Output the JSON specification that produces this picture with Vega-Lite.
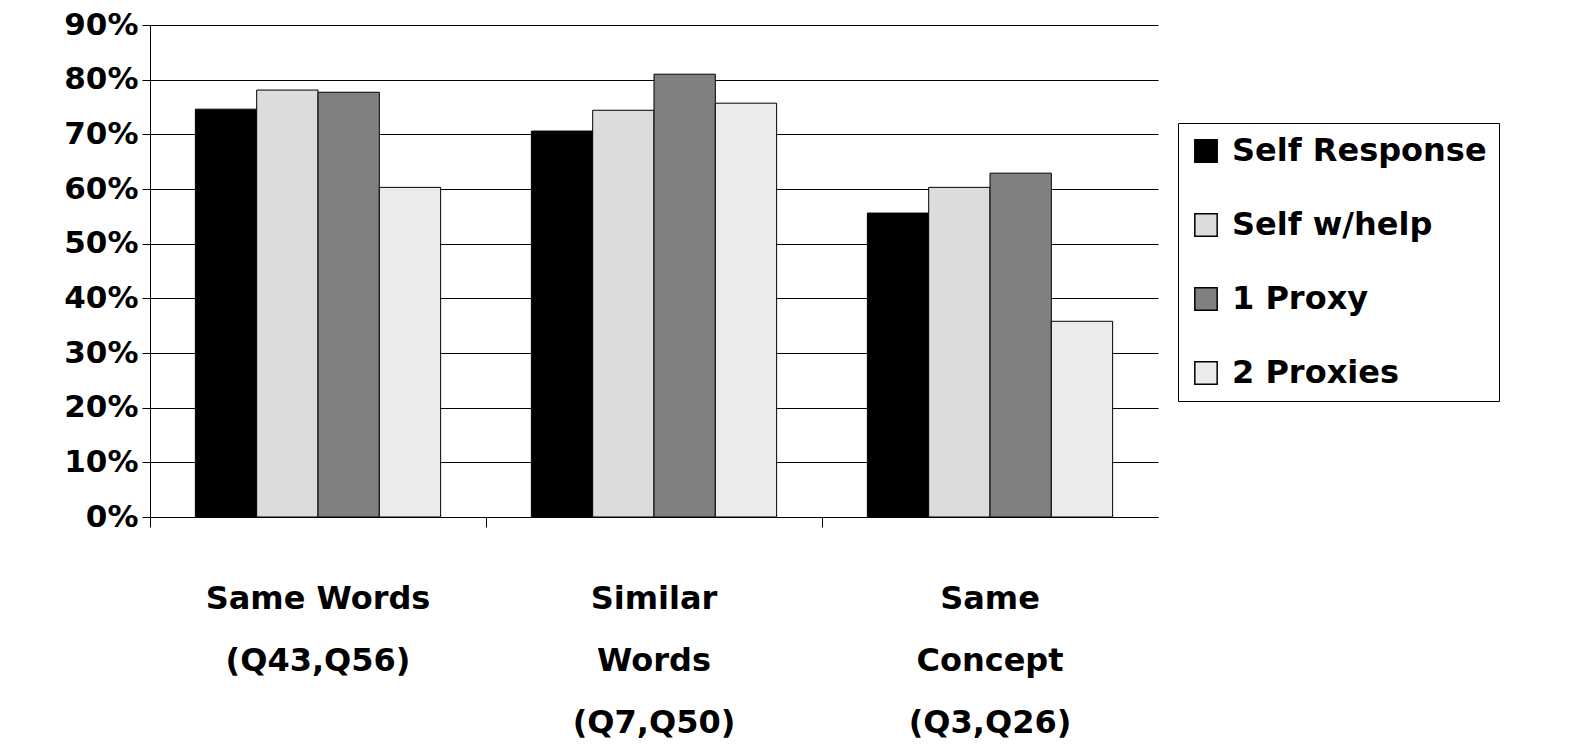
{
  "$schema": "https://vega.github.io/schema/vega-lite/v6.json",
  "width": 1008,
  "height": 492,
  "autosize": {"type": "none"},
  "padding": {"left": 150, "top": 25, "right": 427, "bottom": 235},
  "background": "white",
  "config": {"view": {"stroke": null}, "font": "DejaVu Sans"},
  "data": {
    "values": [
      {"cat": "Same Words|(Q43,Q56)", "grp": "Self Response", "v": 0.746},
      {"cat": "Same Words|(Q43,Q56)", "grp": "Self w/help", "v": 0.781},
      {"cat": "Same Words|(Q43,Q56)", "grp": "1 Proxy", "v": 0.777},
      {"cat": "Same Words|(Q43,Q56)", "grp": "2 Proxies", "v": 0.603},
      {"cat": "Similar|Words|(Q7,Q50)", "grp": "Self Response", "v": 0.706},
      {"cat": "Similar|Words|(Q7,Q50)", "grp": "Self w/help", "v": 0.744},
      {"cat": "Similar|Words|(Q7,Q50)", "grp": "1 Proxy", "v": 0.81},
      {"cat": "Similar|Words|(Q7,Q50)", "grp": "2 Proxies", "v": 0.757},
      {"cat": "Same|Concept|(Q3,Q26)", "grp": "Self Response", "v": 0.556},
      {"cat": "Same|Concept|(Q3,Q26)", "grp": "Self w/help", "v": 0.603},
      {"cat": "Same|Concept|(Q3,Q26)", "grp": "1 Proxy", "v": 0.629},
      {"cat": "Same|Concept|(Q3,Q26)", "grp": "2 Proxies", "v": 0.358}
    ]
  },
  "encoding": {
    "x": {"field": "cat", "type": "nominal", "sort": null,
      "scale": {"paddingInner": 0, "paddingOuter": 0}},
    "xOffset": {"field": "grp", "type": "nominal", "sort": ["Self Response", "Self w/help", "1 Proxy", "2 Proxies"],
      "scale": {"paddingInner": 0, "paddingOuter": 0.74}},
    "y": {"field": "v", "type": "quantitative",
      "scale": {"domain": [0, 0.9]},
      "axis": {"format": "%", "tickCount": 9, "title": null, "labelFontSize": 31, "labelFontWeight": "bold",
        "labelColor": "black", "domainColor": "black", "tickColor": "black", "tickSize": 8,
        "gridColor": "black", "gridOpacity": 1, "labelPadding": 4}}
  },
  "layer": [
    {
      "mark": {"type": "bar", "stroke": "black", "strokeWidth": 1},
      "encoding": {
        "x": {"field": "cat", "type": "nominal", "sort": null,
          "axis": {"title": null, "ticks": false, "domain": false, "labelAngle": 0, "labelLimit": 0,
            "labelExpr": "split(datum.label, '|')", "labelFontSize": 32, "labelFontWeight": "bold",
            "labelColor": "black", "labelPadding": 66, "labelLineHeight": 62, "labelBaseline": "top"}},
        "color": {"field": "grp", "type": "nominal", "sort": ["Self Response", "Self w/help", "1 Proxy", "2 Proxies"],
          "scale": {"domain": ["Self Response", "Self w/help", "1 Proxy", "2 Proxies"],
            "range": ["#000000", "#dcdcdc", "#808080", "#ebebeb"]},
          "legend": {"title": null, "orient": "none", "legendX": 1028, "legendY": 98,
            "symbolType": "square", "symbolSize": 500, "symbolStrokeColor": "black", "symbolStrokeWidth": 1.5,
            "labelFontSize": 32, "labelFontWeight": "bold", "labelColor": "black", "rowPadding": 42, "labelLimit": 0,
            "strokeColor": "black", "fillColor": "white", "padding": 12, "labelOffset": 10}}
      }
    },
    {
      "mark": {"type": "bar", "opacity": 0},
      "encoding": {
        "x": {"field": "cat", "type": "nominal", "sort": null,
          "axis": {"title": null, "labels": false, "bandPosition": 0, "domainColor": "black",
            "tickColor": "black", "tickSize": 10, "orient": "bottom"}}
      }
    }
  ],
  "resolve": {"axis": {"x": "independent"}}
}
